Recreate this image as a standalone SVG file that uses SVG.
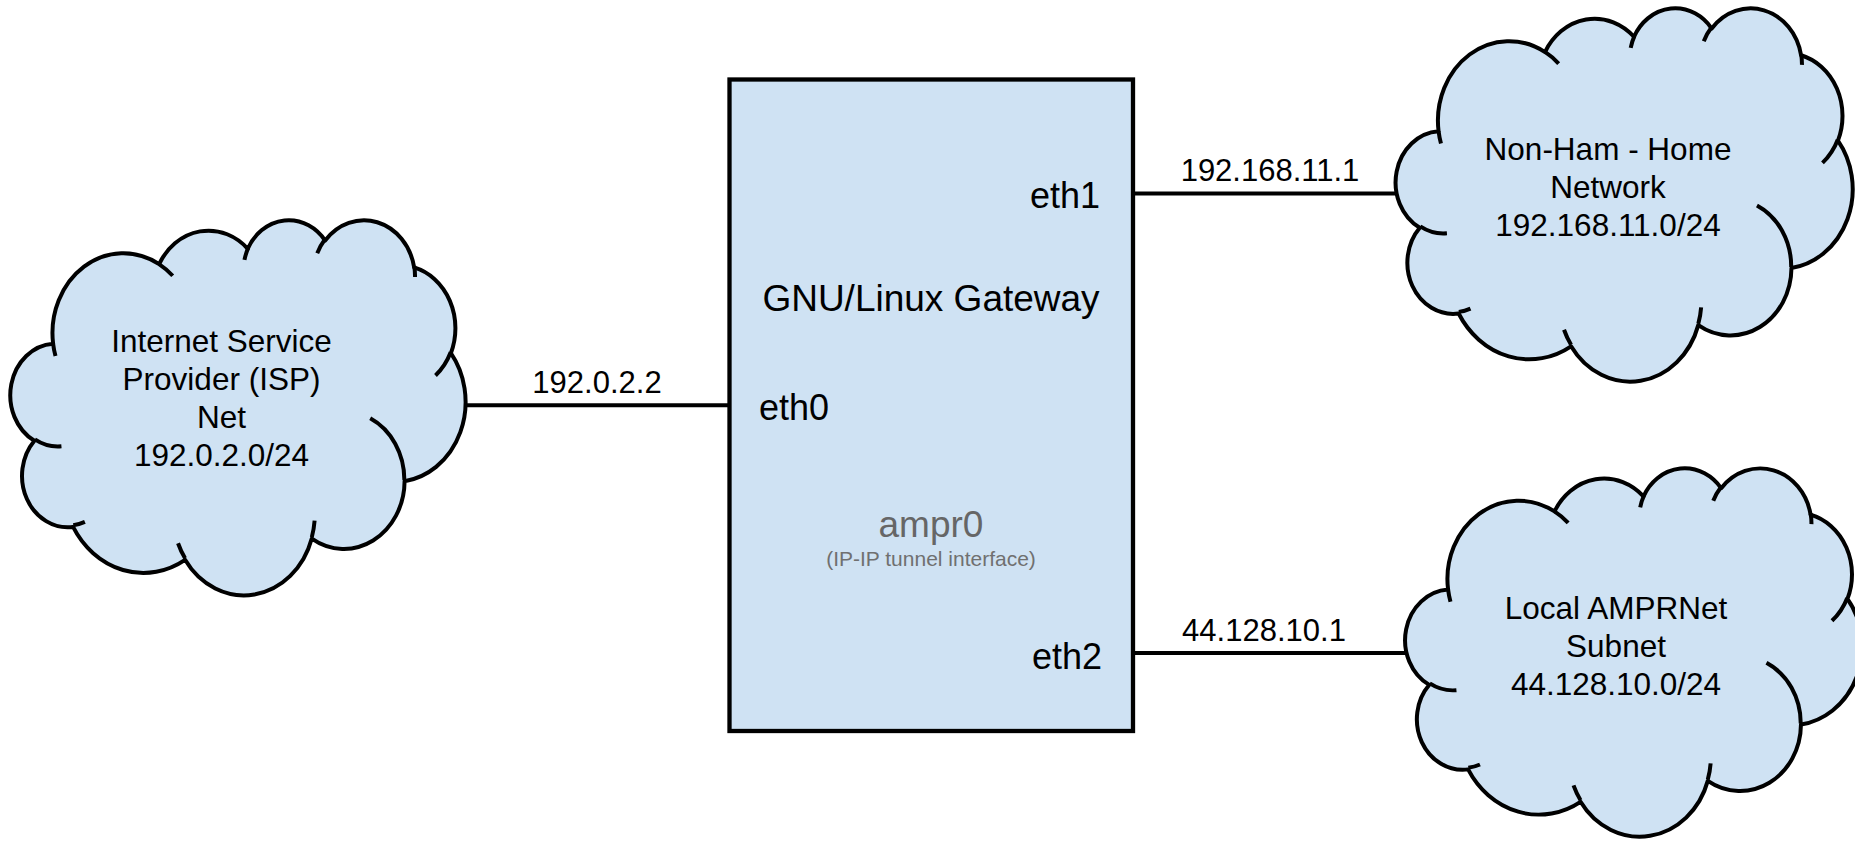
<svg xmlns="http://www.w3.org/2000/svg" xmlns:xlink="http://www.w3.org/1999/xlink" width="1855" height="841" viewBox="0 0 1855 841">
  <style>
    .cloud { fill: #cfe2f3; stroke: #000; stroke-width: 4; stroke-linejoin: round; }
    .inner { fill: none; stroke: #000; stroke-width: 4; }
    .box { fill: #cfe2f3; stroke: #000; stroke-width: 4.3; }
    .wire { stroke: #000; stroke-width: 4; fill: none; }
    text { font-family: "Liberation Sans", Arial, sans-serif; fill: #000; }
    .ctext { font-size: 31.5px; text-anchor: middle; }
    .elabel { font-size: 31px; text-anchor: middle; }
    .port { font-size: 36px; }
    .title { font-size: 37px; text-anchor: middle; }
    .tun { font-size: 37px; text-anchor: middle; fill: #666666; }
    .tunsub { font-size: 21px; text-anchor: middle; fill: #707070; }
  </style>
  <defs>
    <g id="cloudShape">
      <path class="cloud" d="M41.08,124.74 A71.13,79.78 0 0 1 147.51,45.16 A56.17,63.08 0 0 1 236.52,29.79 A45.97,51.61 0 0 1 314.21,21.54 A51.16,57.25 0 0 1 403.58,48.40 A56.17,63.13 0 0 1 440.45,134.20 A71.36,80.04 0 0 1 393.96,262.18 A60.93,68.29 0 0 1 300.77,319.56 A71.12,79.99 0 0 1 173.58,340.83 A81.31,91.52 0 0 1 61.14,307.90 A45.92,51.37 0 0 1 22.26,221.77 A45.76,51.61 0 0 1 41.08,124.74 Z"/>
      <path class="inner" d="M49.43,227.23 A45.76,51.61 0 0 1 22.75,220.31 M72.97,302.94 A45.92,51.37 0 0 1 61.30,306.25 M173.55,339.32 A71.12,79.99 0 0 1 166.52,324.22 M303.62,301.66 A71.12,79.99 0 0 1 300.81,318.23 M359.46,199.25 A60.93,68.29 0 0 1 393.71,261.20 M440.23,133.28 A56.17,63.13 0 0 1 424.98,156.51 M403.64,47.10 A51.16,57.25 0 0 1 404.45,58.07 M306.26,34.31 A51.16,57.25 0 0 1 314.07,20.32 M233.20,40.97 A45.97,51.61 0 0 1 236.98,28.91 M147.45,45.07 A71.13,79.78 0 0 1 161.15,56.77 M43.47,137.06 A71.13,79.78 0 0 1 41.08,124.74"/>
    </g>
  </defs>

  <g id="connectors">
    <line class="wire" x1="464" y1="405.3" x2="729.5" y2="405.3"/>
    <line class="wire" x1="1133" y1="193.5" x2="1398" y2="193.5"/>
    <line class="wire" x1="1133" y1="653" x2="1408" y2="653"/>
    <text class="elabel" x="597" y="393">192.0.2.2</text>
    <text class="elabel" x="1270" y="180.5">192.168.11.1</text>
    <text class="elabel" x="1264" y="640.5">44.128.10.1</text>
  </g>

  <g id="node-isp">
    <use xlink:href="#cloudShape" href="#cloudShape" transform="translate(12.2,219) scale(0.996,1)"/>
    <text class="ctext" x="221.5" y="351.5">Internet Service</text>
    <text class="ctext" x="221.5" y="389.5">Provider (ISP)</text>
    <text class="ctext" x="221.5" y="427.5">Net</text>
    <text class="ctext" x="221.5" y="465.5">192.0.2.0/24</text>
  </g>

  <g id="node-gateway">
    <rect class="box" x="729.5" y="79.5" width="403.5" height="651.5"/>
    <text class="port" x="1100" y="207.5" text-anchor="end">eth1</text>
    <text class="title" x="931" y="310.5">GNU/Linux Gateway</text>
    <text class="port" x="759" y="420">eth0</text>
    <text class="tun" x="931" y="536.5">ampr0</text>
    <text class="tunsub" x="931" y="565.5">(IP-IP tunnel interface)</text>
    <text class="port" x="1102" y="668.5" text-anchor="end">eth2</text>
  </g>

  <g id="node-home">
    <use xlink:href="#cloudShape" href="#cloudShape" transform="translate(1397.5,7.1) scale(1,0.9952)"/>
    <text class="ctext" x="1608" y="159.5">Non-Ham - Home</text>
    <text class="ctext" x="1608" y="197.5">Network</text>
    <text class="ctext" x="1608" y="235.5">192.168.11.0/24</text>
  </g>

  <g id="node-ampr">
    <use xlink:href="#cloudShape" href="#cloudShape" transform="translate(1407,467.1) scale(1,0.9819)"/>
    <text class="ctext" x="1616" y="618.5">Local AMPRNet</text>
    <text class="ctext" x="1616" y="656.5">Subnet</text>
    <text class="ctext" x="1616" y="695">44.128.10.0/24</text>
  </g>
</svg>
